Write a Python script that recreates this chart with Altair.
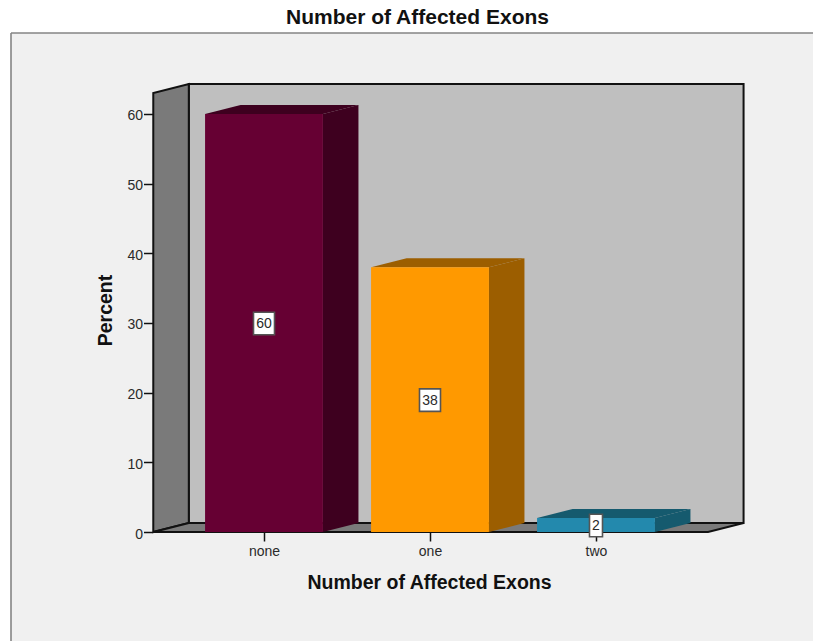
import altair as alt
import pandas as pd

# Values shown by the chart
categories = ["none", "one", "two"]
percents = [60, 38, 2]
value_labels = ["60", "38", "2"]
y_ticks = [0, 10, 20, 30, 40, 50, 60]

front_colors = ["#660033", "#ff9900", "#2389ad"]
shade_colors = ["#3e001f", "#9c5e00", "#155a6e"]

# Box geometry, in data units: categories sit at 0, 1, 2
HALF_BAR = 0.355
DEPTH_X = 0.214
DEPTH_Y = 1.3
X_LOW, X_HIGH = -0.667, 2.675
Y_TOP = 63

W, H = 813, 641
x_scale = alt.Scale(domain=[-264 / 166, (W - 264) / 166], range=[0, W], nice=False, zero=False)
y_scale = alt.Scale(domain=[-109 / 6.967, 532 / 6.967], range=[H, 0], nice=False, zero=False)
FONT = "Liberation Sans"

x_axis = alt.Axis(
    values=[0, 1, 2],
    labelExpr="['none','one','two'][datum.value]",
    labelFont=FONT, labelFontSize=14, labelColor="#2a2a2a", labelPadding=3,
    labelFlush=False, labelOverlap=False,
    domain=False, grid=False, offset=-109,
    tickSize=9, tickColor="#111111", tickWidth=1.5,
    title="Number of Affected Exons",
    titleFont=FONT, titleFontSize=19.5, titleFontWeight="bold", titleColor="#111111",
    titleX=429, titleY=50, titleBaseline="middle",
)
y_axis = alt.Axis(
    values=y_ticks,
    labelFont=FONT, labelFontSize=14, labelColor="#2a2a2a", labelPadding=1, labelOffset=2,
    domain=False, grid=False, offset=-153,
    tickSize=9.5, tickColor="#111111", tickWidth=1.5,
    title="Percent",
    titleFont=FONT, titleFontSize=19.5, titleFontWeight="bold", titleColor="#111111",
    titleY=310, titleX=-48, titleBaseline="middle",
)


def area_layer(rows, fill, stroke=None, stroke_width=0):
    """Draw a parallelogram from (x, low, high) rows using a vertical-band area."""
    frame = pd.DataFrame(rows, columns=["x", "low", "high"])
    mark = dict(fill=fill, opacity=1, interpolate="linear", orient="vertical")
    if stroke:
        mark.update(stroke=stroke, strokeWidth=stroke_width)
    return alt.Chart(frame).mark_area(**mark).encode(
        x=alt.X("x:Q", scale=x_scale, axis=x_axis),
        y=alt.Y("low:Q", scale=y_scale, axis=y_axis, stack=None),
        y2="high:Q",
    )


# Panel background: the view is filled, the strips outside the frame are white
blank = pd.DataFrame({"a": [0]})
strip_top = alt.Chart(blank).mark_rect(fill="white").encode(
    x=alt.value(0), x2=alt.value(W), y=alt.value(0), y2=alt.value(33))
strip_left = alt.Chart(blank).mark_rect(fill="white").encode(
    x=alt.value(0), x2=alt.value(11), y=alt.value(0), y2=alt.value(H))
frame_top = alt.Chart(blank).mark_rule(color="#858585", strokeWidth=1.6).encode(
    x=alt.value(11), x2=alt.value(W), y=alt.value(33))
frame_left = alt.Chart(blank).mark_rule(color="#858585", strokeWidth=1.6).encode(
    x=alt.value(11), y=alt.value(33), y2=alt.value(H))

# Walls and floor
back_wall = area_layer(
    [(X_LOW + DEPTH_X, DEPTH_Y, Y_TOP + DEPTH_Y), (X_HIGH + DEPTH_X, DEPTH_Y, Y_TOP + DEPTH_Y)],
    "#bfbfbf", "#111111", 2)
left_wall = area_layer(
    [(X_LOW, 0, Y_TOP), (X_LOW + DEPTH_X, DEPTH_Y, Y_TOP + DEPTH_Y)],
    "#7a7a7a", "#111111", 2)
floor = area_layer(
    [(X_LOW, 0, 0), (X_LOW + DEPTH_X, 0, DEPTH_Y),
     (X_HIGH, 0, DEPTH_Y), (X_HIGH + DEPTH_X, DEPTH_Y, DEPTH_Y)],
    "#7a7a7a", "#111111", 2)

layers = [strip_top, strip_left, frame_top, frame_left, back_wall, left_wall, floor]

# Each bar: shaded side, shaded top, flat front
for i, (value, front, shade) in enumerate(zip(percents, front_colors, shade_colors)):
    left, right = i - HALF_BAR, i + HALF_BAR
    layers.append(area_layer(
        [(right, 0, value), (right + DEPTH_X, DEPTH_Y, value + DEPTH_Y)], shade))
    layers.append(area_layer(
        [(left, value, value), (left + DEPTH_X, value, value + DEPTH_Y),
         (right, value, value + DEPTH_Y), (right + DEPTH_X, value + DEPTH_Y, value + DEPTH_Y)],
        shade))
    layers.append(
        alt.Chart(pd.DataFrame({"x": [left], "x2": [right], "y": [0], "y2": [value]}))
        .mark_rect(fill=front)
        .encode(
            x=alt.X("x:Q", scale=x_scale, axis=x_axis),
            x2="x2:Q",
            y=alt.Y("y:Q", scale=y_scale, axis=y_axis),
            y2="y2:Q",
        )
    )

# Value labels in white boxes at half of each bar's height
for i, (value, label) in enumerate(zip(percents, value_labels)):
    point = pd.DataFrame({"x": [i], "y": [value / 2], "label": [label]})
    box_width = 5 + 8 * len(label)
    base = alt.Chart(point).encode(
        x=alt.X("x:Q", scale=x_scale, axis=x_axis),
        y=alt.Y("y:Q", scale=y_scale, axis=y_axis),
    )
    layers.append(base.mark_rect(width=box_width, height=22.5, fill="white",
                                 stroke="#555555", strokeWidth=1.6, yOffset=0.5))
    layers.append(base.mark_text(font=FONT, fontSize=14, color="#2a2a2a", dy=1).encode(text="label:N"))

chart = (
    alt.layer(*layers)
    .properties(
        width=W,
        height=H,
        padding=0,
        autosize=alt.AutoSizeParams(type="none"),
        background="white",
        title=alt.TitleParams(
            "Number of Affected Exons",
            font=FONT, fontSize=21, fontWeight="bold", color="#111111",
            anchor="middle", dx=11, dy=49, offset=0, baseline="bottom",
        ),
    )
    .configure_view(fill="#f0f0f0", stroke=None)
)

chart.save("out.html", embed_options={"renderer": "svg", "actions": False})
